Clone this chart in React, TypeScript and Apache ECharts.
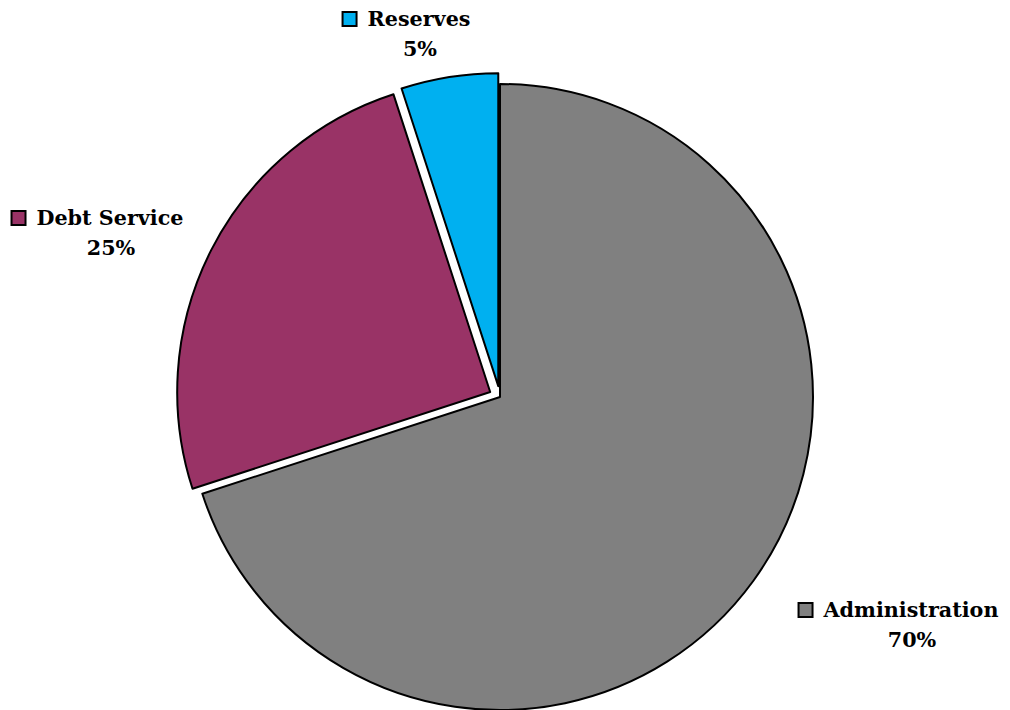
import React, { useEffect, useRef } from "react";
import * as echarts from "echarts";

const categories = ["Administration", "Debt Service", "Reserves"];
const values = [70, 25, 5];
const colors = ["#808080", "#993366", "#00B0F0"];
const exploded = [false, true, true];
// label block centres (x, y)
const labelPos: [number, number][] = [
  [899, 625],
  [98, 233],
  [407, 34],
];
const CENTER: [number, number] = [500, 397];
const RADIUS = 313;
const EXPLODE = 11;
const FONT = 20.7;

function buildSeries(k: number) {
  const total = values.reduce((a, b) => a + b, 0);
  const before = values.slice(0, k).reduce((a, b) => a + b, 0);
  const mid = ((90 - (360 * (before + values[k] / 2)) / total) * Math.PI) / 180;
  const off = exploded[k] ? EXPLODE : 0;
  const center = [CENTER[0] + off * Math.cos(mid), CENTER[1] - off * Math.sin(mid)];
  const txt = { fontFamily: "DejaVu Serif", fontWeight: "bold", fontSize: FONT, color: "#000", lineHeight: 30 };
  return {
    type: "pie",
    center,
    radius: RADIUS,
    startAngle: 90,
    clockwise: true,
    avoidLabelOverlap: false,
    emphasis: { disabled: true },
    labelLine: { show: false },
    label: {
      show: true,
      position: "outside",
      overflow: "none",
      ...txt,
      align: "center",
      formatter: (p: any) => `{m|}{g|}{b|${p.name}}\n{p|${Math.round(p.percent)}%}`,
      rich: {
        m: { width: 12, height: 12, backgroundColor: colors[k], borderColor: "#000", borderWidth: 2 },
        g: { width: 12 },
        b: txt,
        p: { ...txt, padding: [0, 0, 0, 26] },
      },
    },
    labelLayout: () => ({ x: labelPos[k][0], y: labelPos[k][1], align: "center", verticalAlign: "middle" }),
    data: categories.map((name, i) =>
      i === k
        ? { name, value: values[i], itemStyle: { color: colors[i], borderColor: "#000", borderWidth: 2 } }
        : {
            name,
            value: values[i],
            itemStyle: { color: "transparent", borderWidth: 0 },
            label: { show: false },
            silent: true,
          }
    ),
  };
}

export default function App() {
  const ref = useRef<HTMLDivElement>(null);
  useEffect(() => {
    document.body.style.margin = "0";
    const chart = echarts.init(ref.current!, null, { renderer: "svg" });
    chart.setOption({
      animation: false,
      series: categories.map((_, k) => buildSeries(k)),
    });
    return () => chart.dispose();
  }, []);
  return <div ref={ref} style={{ width: 1010, height: 710 }} />;
}
